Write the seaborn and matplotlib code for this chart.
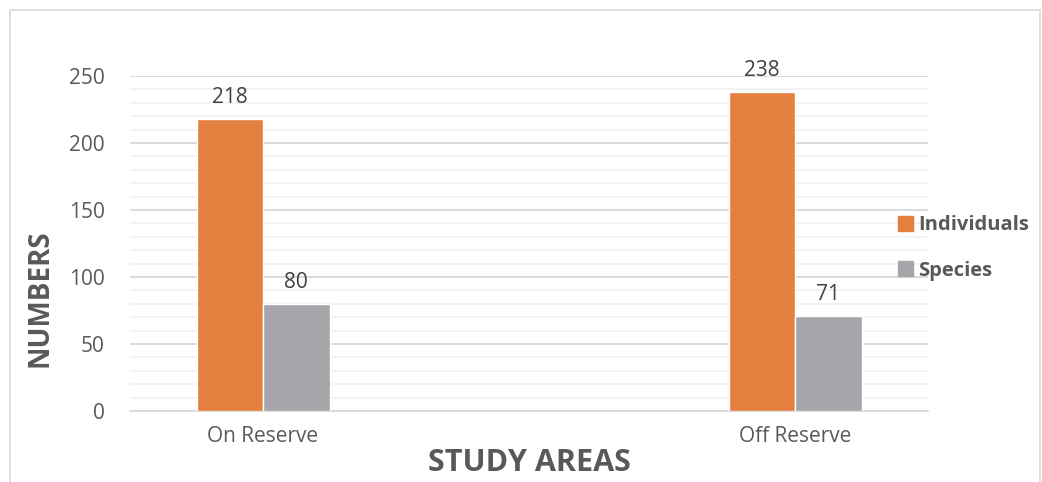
import matplotlib
matplotlib.use("Agg")
import matplotlib.pyplot as plt
import matplotlib.patches as mpatches
import numpy as np
import pandas as pd
import seaborn as sns

areas = ["On Reserve", "Off Reserve"]
individuals = [218, 238]
species = [80, 71]
series = ["Individuals", "Species"]
colors = ["#E4803F", "#A5A6A9"]

df = pd.DataFrame({
    "area": areas * 2,
    "series": [series[0]] * 2 + [series[1]] * 2,
    "value": individuals + species,
})

sns.set_theme(style="white")
plt.rcParams["font.family"] = ["Open Sans", "DejaVu Sans"]

W, H = 1042, 482
fig = plt.figure(figsize=(W / 100, H / 100), dpi=100)
ax = fig.add_axes([130 / W, 1 - 411 / H, (928 - 130) / W, (411 - 76) / H])

sns.barplot(data=df, x="area", y="value", hue="series", palette=colors,
            width=0.25, ax=ax, saturation=1, legend=False, zorder=3)

ax.set_xlim(-0.25, 1.25)
ax.set_ylim(0, 250)
ax.set_yticks(np.arange(0, 251, 50))
ax.set_yticks(np.arange(0, 251, 10), minor=True)
ax.grid(axis="y", which="major", color="#D9D9D9", lw=1.3, zorder=0)
ax.grid(axis="y", which="minor", color="#F2F2F2", lw=1.3, zorder=0)
ax.set_axisbelow(True)
for s in ["top", "right", "left"]:
    ax.spines[s].set_visible(False)
ax.spines["bottom"].set_color("#D9D9D9")
ax.spines["bottom"].set_linewidth(1.3)
ax.tick_params(axis="both", which="both", length=0, labelsize=15, colors="#595959")
ax.tick_params(axis="y", pad=18)
ax.tick_params(axis="x", pad=11)
ax.set_xlabel("")
ax.set_ylabel("")

# value labels above each bar
for cont in ax.containers:
    ax.bar_label(cont, padding=8, fontsize=15, color="#404040")

fig.text(40 / W, 1 - 298 / H, "NUMBERS", rotation=90, ha="center", va="center",
         fontsize=20, fontweight="bold", color="#595959")
fig.text(529 / W, 1 - 463 / H, "STUDY AREAS", ha="center", va="center",
         fontsize=22, fontweight="bold", color="#595959")

handles = [mpatches.Patch(color=c, label=s) for c, s in zip(colors, series)]
fig.legend(handles=handles, loc="center left", bbox_to_anchor=(898 / W, 1 - 248 / H),
           frameon=False, prop={"size": 14.5, "weight": "bold"}, labelcolor="#595959",
           handlelength=0.75, handleheight=0.75, handletextpad=0.25, labelspacing=1.25,
           borderpad=0, borderaxespad=0)

fig.patches.append(mpatches.Rectangle((10 / W, -0.05), (1040 - 10) / W, 1 - 10 / H + 0.05,
                                      transform=fig.transFigure, fill=False,
                                      edgecolor="#D9D9D9", lw=1.2))

fig.savefig("out.png", dpi=100, facecolor="white")
